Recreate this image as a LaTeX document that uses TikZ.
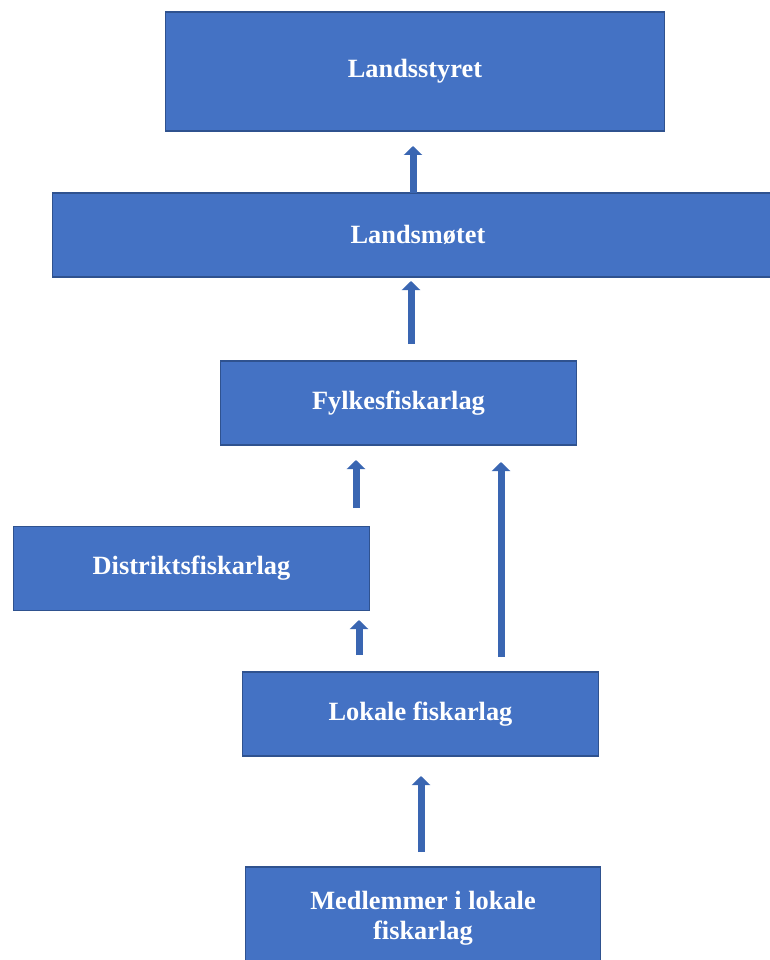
\documentclass[tikz,border=0pt]{standalone}
\usepackage{fontspec}
\setmainfont{Liberation Serif}
\usetikzlibrary{arrows.meta}
\definecolor{boxblue}{RGB}{68,114,196}
\definecolor{boxedge}{RGB}{47,82,143}
\definecolor{arrowblue}{RGB}{58,102,178}
\begin{document}
\begin{tikzpicture}[
    x=0.02cm, y=-0.02cm,
    every node/.style={font=\fontsize{15pt}{17pt}\selectfont\bfseries},
    org/.style={rectangle, draw=boxedge, fill=boxblue, line width=0.6pt,
                text=white, align=center, minimum height=1.68cm},
    up/.style={-{Triangle[width=0.36cm, length=0.18cm]}, line width=0.14cm,
               draw=arrowblue, fill=arrowblue}
]
    \useasboundingbox (0,0) rectangle (769,960);
    % top levels
    \node[org, minimum width=10cm, minimum height=2.38cm] (styret) at (415, 71.5) {Landsstyret};
    \node[org, minimum width=14.64cm] (mote) at (418, 235) {Landsmøtet};
    \node[org, minimum width=7.14cm] (fylke) at (398.5, 403) {Fylkesfiskarlag};
    % middle levels
    \node[org, minimum width=7.14cm] (distrikt) at (191.5, 568.5) {Distriktsfiskarlag};
    \node[org, minimum width=7.14cm] (lokal) at (420.5, 714) {Lokale fiskarlag};
    \node[org, minimum width=7.12cm, minimum height=2.04cm] (medlem) at (423, 918)
        {Medlemmer i lokale\\fiskarlag};
    % arrow ends
    \coordinate (mote-out)     at (413, 193);
    \coordinate (styret-in)    at (413, 146);
    \coordinate (fylke-out)    at (411, 344);
    \coordinate (mote-in)      at (411, 281);
    \coordinate (distrikt-out) at (356, 508);
    \coordinate (fylke-in1)    at (356, 460);
    \coordinate (lokal-out1)   at (359, 655);
    \coordinate (distrikt-in)  at (359, 620);
    \coordinate (lokal-out2)   at (501, 657);
    \coordinate (fylke-in2)    at (501, 462);
    \coordinate (medlem-out)   at (421, 852);
    \coordinate (lokal-in)     at (421, 776);
    % arrows
    \draw[up] (mote-out) -- (styret-in);
    \draw[up] (fylke-out) -- (mote-in);
    \draw[up] (distrikt-out) -- (fylke-in1);
    \draw[up] (lokal-out1) -- (distrikt-in);
    \draw[up] (lokal-out2) -- (fylke-in2);
    \draw[up] (medlem-out) -- (lokal-in);
\end{tikzpicture}
\end{document}
